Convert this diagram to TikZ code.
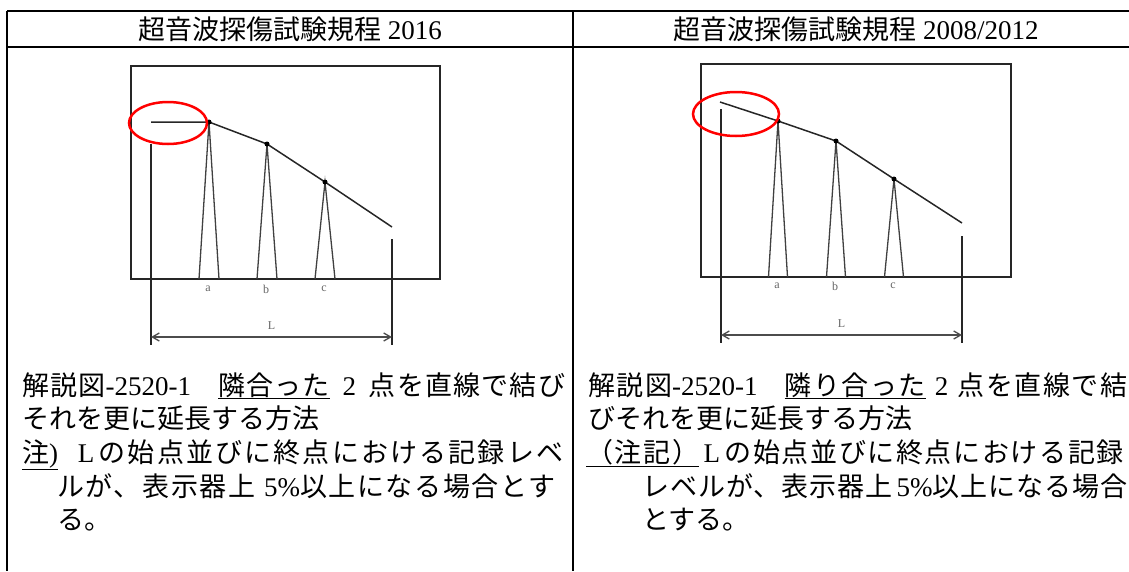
\documentclass[tikz,border=0pt]{standalone}
\usepackage{fontspec}
\setmainfont{Liberation Serif}
\newfontfamily\jp{Noto Sans CJK JP}
\usetikzlibrary{arrows.meta}
\newcommand{\jline}[2]{\makebox[#1][s]{#2}}
\newcommand{\jsp}[2]{{\jp\addfontfeatures{LetterSpace=#1}#2}}

\begin{document}
\begin{tikzpicture}[x=1pt,y=-1pt]
    \useasboundingbox (0,0) rectangle (1129,571);

    \tikzset{TableLine/.style={line width=2pt}}
    \coordinate (TL) at (7,11);
    \coordinate (TR) at (1129,11);
    \coordinate (HL) at (7,47);
    \coordinate (HR) at (1129,47);
    \coordinate (BL) at (7,571);
    \coordinate (TM) at (573,11);
    \coordinate (BM) at (573,571);
    \draw[TableLine] (TL) -- (TR);
    \draw[TableLine] (HL) -- (HR);
    \draw[TableLine] (TL) -- (BL);
    \draw[TableLine] (TM) -- (BM);

    \tikzset{HeadText/.style={font=\fontsize{27}{30}\selectfont, inner sep=0pt}}
    \node[HeadText] (head16) at (290,29) {{\jp 超音波探傷試験規程} 2016};
    \node[HeadText] (head08) at (856,29) {{\jp 超音波探傷試験規程} 2008/2012};

    \tikzset{ScreenStyle/.style={line width=1.6pt, black!85}}
    \tikzset{CurveStyle/.style={line width=1.5pt, black!85}}
    \tikzset{EchoStyle/.style={line width=1.3pt, black!75}}
    \tikzset{MarkStyle/.style={red, line width=2.5pt}}
    \tikzset{DimStyle/.style={line width=1.3pt, black!70,
        {Straight Barb[length=7pt,width=8pt]}-{Straight Barb[length=7pt,width=8pt]}}}
    \tikzset{EchoLabel/.style={font=\fontsize{12}{12}\selectfont, text=black!60, inner sep=0pt}}

    % 2016
    \draw[ScreenStyle] (131,66) rectangle (440,279);
    \coordinate (start16) at (151,122);
    \coordinate (a16) at (209,122);
    \coordinate (b16) at (267,144);
    \coordinate (c16) at (325,182);
    \coordinate (end16) at (392,227);
    \draw[CurveStyle] (start16) -- (a16) -- (b16) -- (c16) -- (end16);
    \foreach \x/\y/\n in {209/122/a, 267/144/b, 325/182/c}{
        \draw[EchoStyle] (\x-10,279) -- (\x,\y) -- (\x+10,279);
        \fill (\x,\y) circle (2.5);
        \node[EchoLabel] at (\x-1,289) {\n};
    }
    \coordinate (lo16) at (151,144);
    \coordinate (ld16) at (151,345);
    \coordinate (ro16) at (392,239);
    \coordinate (rd16) at (392,345);
    \draw[ScreenStyle] (lo16) -- (ld16);
    \draw[ScreenStyle] (ro16) -- (rd16);
    \draw[DimStyle] (151,337) -- node[EchoLabel, above=7pt] (L16) {L} (392,337);
    \draw[MarkStyle] (168,123) ellipse [x radius=39, y radius=21];

    % 2008/2012
    \draw[ScreenStyle] (701,64) rectangle (1011,277);
    \coordinate (start08) at (720,102);
    \coordinate (a08) at (778,121);
    \coordinate (b08) at (836,141);
    \coordinate (c08) at (894,179);
    \coordinate (end08) at (962,223);
    \draw[CurveStyle] (start08) -- (a08) -- (b08) -- (c08) -- (end08);
    \foreach \x/\y/\n in {778/121/a, 836/141/b, 894/179/c}{
        \draw[EchoStyle] (\x-9.5,277) -- (\x,\y) -- (\x+9.5,277);
        \fill (\x,\y) circle (2.5);
        \node[EchoLabel] at (\x-1,286) {\n};
    }
    \coordinate (lo08) at (721,109);
    \coordinate (ld08) at (721,343);
    \coordinate (ro08) at (962,236);
    \coordinate (rd08) at (962,343);
    \draw[ScreenStyle] (lo08) -- (ld08);
    \draw[ScreenStyle] (ro08) -- (rd08);
    \draw[DimStyle] (721,335) -- node[EchoLabel, above=7pt] (L08) {L} (962,335);
    \draw[MarkStyle] (736,114) ellipse [x radius=43, y radius=22];

    \tikzset{BodyText/.style={anchor=base west, inner sep=0pt, font=\fontsize{27}{30}\selectfont}}
    \node[BodyText] (left1) at (22,395) {\jline{543pt}{\jsp{4.5}{解説図}-2520-1\quad\underline{\jsp{4.5}{隣合った}} 2 \jsp{4.5}{点を直線で結び}}};
    \node[BodyText] (left2) at (22,428) {\jp それを更に延長する方法};
    \node[BodyText] (left3) at (22,462) {\jline{541pt}{\underline{\jsp{8}{注})}~L\,\jsp{8}{の始点並びに終点における記録レベ}}};
    \node[BodyText] (left4) at (57,496) {\jline{498pt}{\jsp{6}{ルが、表示器上} 5\%\jsp{6}{以上になる場合とす}}};
    \node[BodyText] (left5) at (57,529) {\jp る。};

    \node[BodyText] (right1) at (588,395) {\jline{539pt}{\jsp{5.5}{解説図}-2520-1\quad\underline{\jsp{5.5}{隣り合った}} 2 \jsp{5.5}{点を直線で結}}};
    \node[BodyText] (right2) at (588,428) {\jp びそれを更に延長する方法};
    \node[BodyText] (right3) at (586,462) {\jline{541pt}{\underline{\jsp{6}{（注記）}}\,L\,\jsp{6}{の始点並びに終点における記録}}};
    \node[BodyText] (right4) at (642,496) {\jline{483pt}{\jsp{3.5}{レベルが、表示器上} 5\%\jsp{3.5}{以上になる場合}}};
    \node[BodyText] (right5) at (642,529) {\jp とする。};
\end{tikzpicture}
\end{document}
